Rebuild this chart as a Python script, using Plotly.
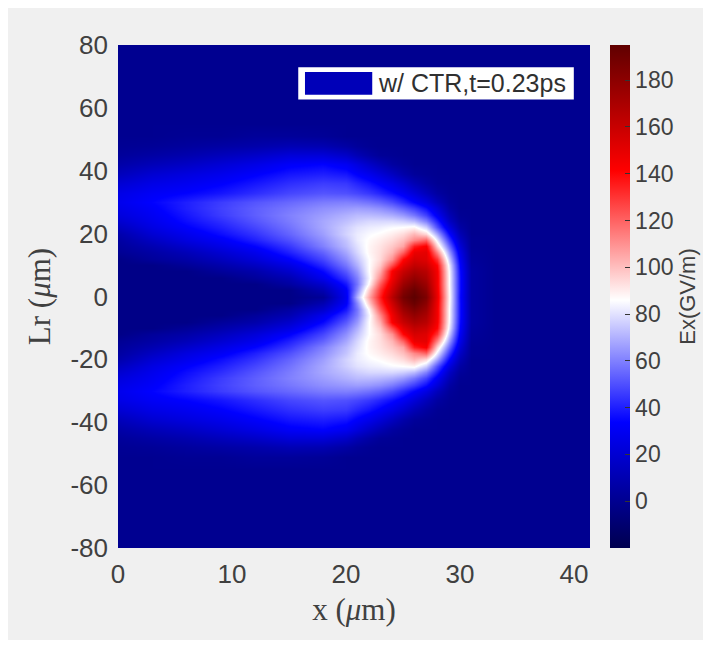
import plotly.graph_objects as go

x_um = [0, 3, 6, 9, 12, 15, 18, 20, 21, 22, 23, 24, 25, 26, 27, 28, 29, 30, 31, 33, 41.4]
abs_y_um = [0, 2, 4, 6, 8, 10, 12, 14, 16, 18, 20, 22, 24, 26, 28, 30, 33, 36, 39, 42, 45, 48, 51, 55, 80]
ex_rows = [
    [-3, -3, -3, -3, -3, -3, 2, 30, 70, 105, 135, 165, 188, 196, 185, 148, 88, 35, 5, 0, 0],
    [-3, -3, -3, -3, -3, -3, 10, 32, 62, 98, 130, 158, 182, 192, 180, 146, 87, 36, 5, 0, 0],
    [-3, -3, -3, -3, -3, 5, 18, 38, 58, 88, 122, 152, 175, 185, 175, 145, 86, 36, 5, 0, 0],
    [-3, -3, -3, -3, 3, 10, 28, 45, 60, 84, 112, 146, 168, 178, 170, 145, 86, 36, 5, 0, 0],
    [-3, -3, -3, 3, 8, 18, 35, 52, 65, 86, 104, 143, 160, 170, 165, 144, 85, 35, 5, 0, 0],
    [-3, -3, 2, 8, 15, 25, 42, 58, 70, 86, 98, 125, 150, 162, 158, 140, 82, 33, 4, 0, 0],
    [-3, 3, 7, 14, 22, 33, 48, 63, 74, 86, 94, 110, 140, 155, 152, 130, 75, 30, 3, 0, 0],
    [1, 6, 12, 20, 28, 40, 54, 68, 78, 88, 93, 102, 120, 148, 150, 112, 65, 26, 2, 0, 0],
    [3, 10, 18, 26, 34, 45, 60, 72, 80, 88, 92, 98, 106, 135, 143, 95, 55, 21, 1, 0, 0],
    [5, 15, 24, 31, 40, 50, 63, 74, 82, 87, 90, 94, 100, 112, 120, 82, 45, 16, 1, 0, 0],
    [8, 20, 28, 36, 44, 54, 66, 77, 82, 85, 87, 90, 94, 102, 95, 68, 35, 11, 0, 0, 0],
    [14, 25, 33, 40, 48, 57, 68, 76, 80, 82, 83, 85, 86, 88, 76, 50, 24, 6, 0, 0, 0],
    [19, 28, 36, 43, 51, 59, 68, 73, 76, 78, 78, 78, 76, 72, 60, 40, 16, 3, 0, 0, 0],
    [23, 30, 38, 46, 53, 60, 66, 70, 72, 72, 71, 69, 65, 58, 47, 30, 11, 1, 0, 0, 0],
    [26, 32, 40, 47, 53, 58, 63, 65, 66, 65, 63, 59, 53, 46, 36, 22, 6, 0, 0, 0, 0],
    [28, 34, 40, 46, 51, 55, 59, 60, 59, 57, 54, 49, 42, 34, 25, 13, 3, 0, 0, 0, 0],
    [26, 31, 34, 38, 43, 48, 51, 50, 48, 45, 41, 36, 30, 22, 13, 5, 1, 0, 0, 0, 0],
    [20, 26, 29, 33, 38, 43, 46, 45, 41, 37, 32, 26, 19, 11, 5, 1, 0, 0, 0, 0, 0],
    [13, 20, 24, 28, 33, 38, 40, 38, 33, 28, 22, 15, 8, 3, 1, 0, 0, 0, 0, 0, 0],
    [7, 12, 16, 21, 26, 32, 34, 30, 24, 17, 11, 5, 2, 0, 0, 0, 0, 0, 0, 0, 0],
    [3, 6, 9, 13, 17, 22, 22, 17, 11, 6, 2, 1, 0, 0, 0, 0, 0, 0, 0, 0, 0],
    [1, 2, 4, 6, 8, 11, 10, 6, 3, 1, 0, 0, 0, 0, 0, 0, 0, 0, 0, 0, 0],
    [0, 0, 1, 1, 3, 3, 2, 0, 0, 0, 0, 0, 0, 0, 0, 0, 0, 0, 0, 0, 0],
    [0, 0, 0, 0, 0, 0, 0, 0, 0, 0, 0, 0, 0, 0, 0, 0, 0, 0, 0, 0, 0],
    [0, 0, 0, 0, 0, 0, 0, 0, 0, 0, 0, 0, 0, 0, 0, 0, 0, 0, 0, 0, 0],
]
cbar_ticks = [0, 20, 40, 60, 80, 100, 120, 140, 160, 180]
x_ticks = [0, 10, 20, 30, 40]
y_ticks = [-80, -60, -40, -20, 0, 20, 40, 60, 80]
y_tick_labels = ["-80", "-60", "-40", "-20", "0", "20", "40", "60", "80"]
legend_label = "w/ CTR,t=0.23ps"

y_all = [-v for v in abs_y_um[:0:-1]] + abs_y_um
z_all = ex_rows[:0:-1] + ex_rows

colorscale = [[0, "#00004f"], [0.25, "#0000ff"], [0.493, "#ffffff"], [0.75, "#ff0000"], [1, "#600000"]]
INK = "#404040"
PANEL = "#f0f0f0"

fig = go.Figure(go.Heatmap(
    x=x_um, y=y_all, z=z_all, zsmooth="best", zmin=-20, zmax=195,
    colorscale=colorscale,
    colorbar=dict(
        x=(610 - 118) / 473, xanchor="left", xpad=0, y=0.5, yanchor="middle", ypad=0,
        len=1, lenmode="fraction", thickness=20, outlinewidth=0,
        tickvals=cbar_ticks, ticks="inside", ticklen=5, tickcolor="#333333",
        tickprefix="\u2009",
        tickfont=dict(family="Liberation Sans", size=23, color=INK),
        title=dict(text="Ex(GV/m)", side="right", font=dict(family="Liberation Sans", size=22, color=INK)),
    ),
))

fig.update_layout(
    width=703, height=632,
    margin=dict(l=110, r=120, t=37, b=92),
    paper_bgcolor=PANEL, plot_bgcolor="#00008c",
    xaxis=dict(range=[0, 41.4], tickvals=x_ticks, ticks="", showgrid=False, zeroline=False,
               ticklabelstandoff=8,
               tickfont=dict(family="Liberation Sans", size=26, color=INK),
               title=dict(text="x (<i>μ</i>m)", font=dict(family="Liberation Serif", size=31, color=INK), standoff=10)),
    yaxis=dict(range=[-80, 80], tickvals=y_ticks, ticktext=y_tick_labels, ticks="", showgrid=False, zeroline=False,
               ticklabelstandoff=9,
               tickfont=dict(family="Liberation Sans", size=26, color=INK),
               title=dict(text="Lr (<i>μ</i>m)", font=dict(family="Liberation Serif", size=31, color=INK), standoff=10)),
    shapes=[
        dict(type="rect", xref="x", yref="y", x0=15.81, x1=39.98, y0=62.7, y1=72.9,
             fillcolor="#ffffff", line=dict(width=0), layer="above"),
        dict(type="rect", xref="x", yref="y", x0=16.4, x1=22.3, y0=64.2, y1=71.4,
             fillcolor="#0000b8", line=dict(width=0), layer="above"),
    ],
    annotations=[
        dict(xref="x", yref="y", x=22.6, y=67.8, xanchor="left", yanchor="middle", showarrow=False,
             text=legend_label, font=dict(family="Liberation Sans", size=25, color="#303030")),
    ],
)

fig.write_html("out.html")
